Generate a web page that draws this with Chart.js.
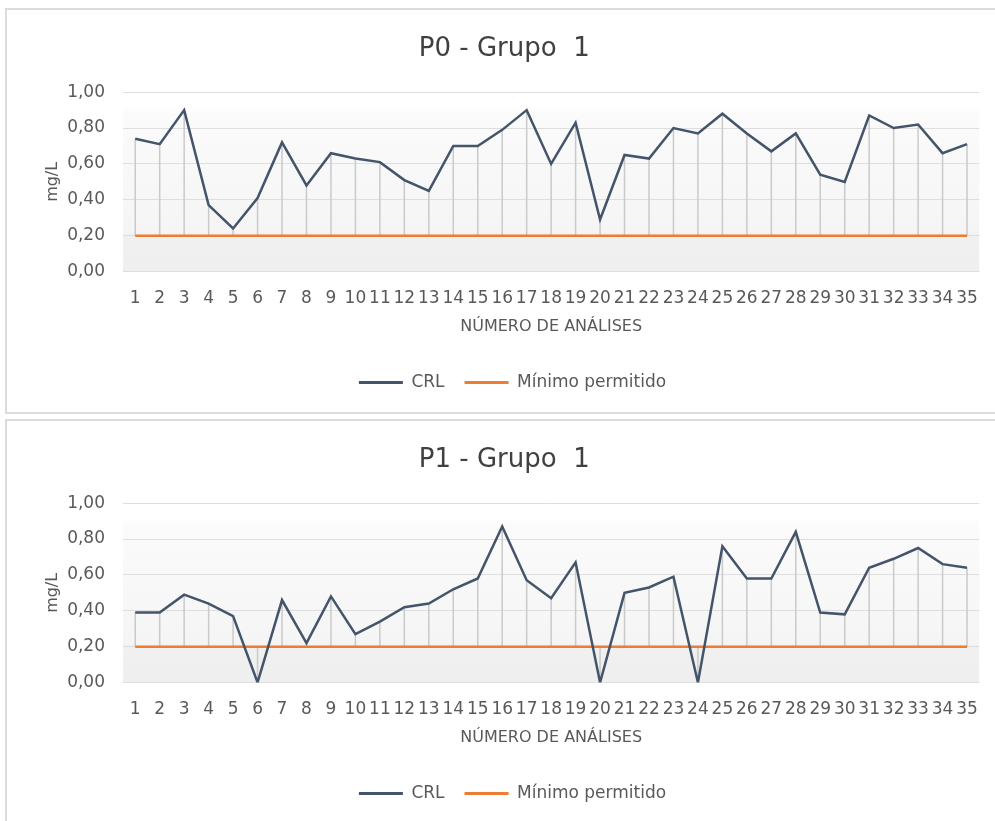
<!DOCTYPE html>
<html>
<head>
<meta charset="utf-8">
<script src="https://cdn.jsdelivr.net/npm/chart.js@4.4.1/dist/chart.umd.min.js"></script>
<style>
  body { margin: 0; background: #fff; width: 995px; height: 821px; overflow: hidden; position: relative; }
  .box { position: absolute; left: 5px; width: 995px; border: 2px solid #dcdcdc; box-sizing: border-box; }
  canvas { position: absolute; left: 7px; }
</style>
</head>
<body>
<div class="box" style="top:8px;height:406px"></div>
<div class="box" style="top:419px;height:420px"></div>
<canvas id="c0" width="988" height="402" style="top:10px"></canvas>
<canvas id="c1" width="988" height="402" style="top:421px"></canvas>
<script>
// dados
const analises = ['1','2','3','4','5','6','7','8','9','10','11','12','13','14','15','16','17','18',
  '19','20','21','22','23','24','25','26','27','28','29','30','31','32','33','34','35'];

const crlP0 = [0.74, 0.71, 0.90, 0.37, 0.24, 0.41, 0.72, 0.48, 0.66, 0.63, 0.61, 0.51, 0.45, 0.70, 0.70,
  0.79, 0.90, 0.60, 0.83, 0.29, 0.65, 0.63, 0.80, 0.77, 0.88, 0.77, 0.67, 0.77, 0.54, 0.50, 0.87, 0.80,
  0.82, 0.66, 0.71];

const crlP1 = [0.39, 0.39, 0.49, 0.44, 0.37, 0.00, 0.46, 0.22, 0.48, 0.27, 0.34, 0.42, 0.44, 0.52, 0.58,
  0.87, 0.57, 0.47, 0.67, 0.00, 0.50, 0.53, 0.59, 0.00, 0.76, 0.58, 0.58, 0.84, 0.39, 0.38, 0.64, 0.69,
  0.75, 0.66, 0.64];

const minimo = [0.2, 0.2, 0.2, 0.2, 0.2, 0.2, 0.2, 0.2, 0.2, 0.2, 0.2, 0.2, 0.2, 0.2, 0.2, 0.2, 0.2, 0.2,
  0.2, 0.2, 0.2, 0.2, 0.2, 0.2, 0.2, 0.2, 0.2, 0.2, 0.2, 0.2, 0.2, 0.2, 0.2, 0.2, 0.2];

const yTicks = [0, 0.2, 0.4, 0.6, 0.8, 1.0];

const FONT = "'DejaVu Sans', sans-serif";
const TXT = '#595959';

// fundo da área do gráfico (degradê estilo Excel)
const plotBg = {
  id: 'plotBg',
  beforeDraw(chart) {
    const {ctx, chartArea: a} = chart;
    const g = ctx.createLinearGradient(0, a.top, 0, a.bottom);
    g.addColorStop(0, '#ffffff');
    g.addColorStop(0.08, '#ffffff');
    g.addColorStop(0.12, '#fbfbfb');
    g.addColorStop(0.78, '#f5f5f5');
    g.addColorStop(0.80, '#f0f0f0');
    g.addColorStop(1, '#efefef');
    ctx.save();
    ctx.fillStyle = g;
    ctx.fillRect(a.left, a.top, a.width, a.height);
    ctx.restore();
  }
};

// linhas de máximo/mínimo entre as duas séries
const hiLo = {
  id: 'hiLo',
  beforeDatasetsDraw(chart) {
    const ctx = chart.ctx;
    const m0 = chart.getDatasetMeta(0), m1 = chart.getDatasetMeta(1);
    ctx.save();
    ctx.strokeStyle = '#cacaca';
    ctx.lineWidth = 1.5;
    ctx.beginPath();
    m0.data.forEach((p, i) => {
      ctx.moveTo(p.x, p.y);
      ctx.lineTo(p.x, m1.data[i].y);
    });
    ctx.stroke();
    ctx.restore();
  }
};

function grafico(id, titulo, crl) {
  return new Chart(document.getElementById(id), {
    type: 'line',
    data: {
      labels: analises,
      datasets: [
        {label: 'CRL', data: crl, borderColor: '#44546a', backgroundColor: '#44546a',
          borderWidth: 2.5, pointRadius: 0, tension: 0},
        {label: 'Mínimo permitido', data: minimo, borderColor: '#ed7d31', backgroundColor: '#ed7d31',
          borderWidth: 2.5, pointRadius: 0, tension: 0}
      ]
    },
    options: {
      responsive: false,
      animation: false,
      layout: {padding: {left: 33, right: 10, top: 0, bottom: 11}},
      plugins: {
        title: {display: true, text: titulo, color: '#404040',
          font: {family: FONT, size: 26, weight: 'normal'}, padding: {top: 23.5, bottom: 27.5}},
        legend: {position: 'bottom',
          labels: {color: TXT, font: {family: FONT, size: 17}, boxWidth: 44, boxHeight: 3, padding: 20,
            generateLabels(chart) {
              const items = Chart.defaults.plugins.legend.labels.generateLabels(chart);
              items.forEach(it => { it.lineWidth = 0; });
              return items;
            }}},
        tooltip: {enabled: false}
      },
      scales: {
        x: {
          offset: true,
          afterFit(s) { s.height = 82.5; },
          grid: {display: false, drawTicks: false},
          border: {display: false},
          ticks: {color: TXT, font: {family: FONT, size: 17}, padding: 17, maxRotation: 0, autoSkip: false},
          title: {display: true, text: 'NÚMERO DE ANÁLISES', color: TXT,
            font: {family: FONT, size: 16}, padding: {top: 0, bottom: 18}}
        },
        y: {
          min: 0, max: 1,
          afterFit(s) { s.width = 83; },
          afterBuildTicks(s) { s.ticks = yTicks.map(v => ({value: v})); },
          grid: {color: '#dedede', lineWidth: 1, drawTicks: false},
          border: {display: false},
          ticks: {color: TXT, font: {family: FONT, size: 17}, padding: 18,
            callback: v => v.toFixed(2).replace('.', ',')},
          title: {display: true, text: 'mg/L', color: TXT, font: {family: FONT, size: 16}, padding: 3}
        }
      }
    },
    plugins: [plotBg, hiLo]
  });
}

grafico('c0', 'P0 - Grupo  1  ', crlP0);
grafico('c1', 'P1 - Grupo  1  ', crlP1);
</script>
</body>
</html>
